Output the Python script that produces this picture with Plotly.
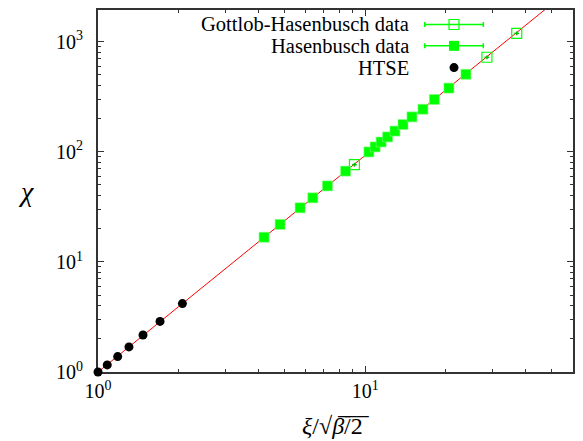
import math
import plotly.graph_objects as go

# ---- data ----
htse_x = [1.0, 1.083, 1.185, 1.306, 1.474, 1.707, 2.07]
htse_y = [1.0, 1.16, 1.38, 1.69, 2.17, 2.88, 4.18]

hasen_x = [4.184, 4.805, 5.709, 6.37, 7.225, 8.45, 10.33, 10.9, 11.48, 12.14,
           12.93, 13.86, 14.97, 16.46, 18.16, 20.59, 23.84]
hasen_y = [16.75, 21.9, 31.0, 38.2, 49.0, 66.8, 99.7, 110.7, 122.8, 136.5,
           154.3, 177.0, 207.6, 243.6, 298.5, 379.0, 505.6]

gh_x = [9.12, 28.57, 36.94]
gh_y = [76.4, 722.5, 1191.0]
gh_xerr_pct = [2.0, 2.0, 2.0]
gh_yerr_pct = [4.0, 4.0, 4.0]

fit_x = [1.0, 60.0]
fit_y = [1.0, 3150.0]

legend_labels = ["Gottlob-Hasenbusch data", "Hasenbusch data", "HTSE"]

x_tickvals = [1, 10]
x_ticktext = ["10<sup>0</sup>", "10<sup>1</sup>"]
y_tickvals = [1, 10, 100, 1000]
y_ticktext = ["10<sup>0</sup>", "10<sup>1</sup>", "10<sup>2</sup>", "10<sup>3</sup>"]

x_range = [1, 60]
y_range = [1, 1941]

# ---- styling ----
FONT = "Liberation Serif, Times New Roman, serif"
GREEN = "#00ff00"
AXC = "#333333"

fig = go.Figure()

fig.add_trace(go.Scatter(x=fit_x, y=fit_y, mode="lines",
                         line=dict(color="#ff0000", width=1), showlegend=False))

fig.add_trace(go.Scatter(x=gh_x, y=gh_y, mode="markers",
                         marker=dict(symbol="square-open", size=10, color=GREEN,
                                     line=dict(width=1.2, color=GREEN)),
                         error_x=dict(type="percent", value=gh_xerr_pct[0], color="#00c000",
                                      thickness=1.5, width=0),
                         error_y=dict(type="percent", value=gh_yerr_pct[0], color="#00c000",
                                      thickness=1.5, width=0),
                         showlegend=False))

fig.add_trace(go.Scatter(x=hasen_x, y=hasen_y, mode="markers",
                         marker=dict(symbol="square", size=10, color=GREEN,
                                     line=dict(width=0.6, color="#80ff80")),
                         showlegend=False))

fig.add_trace(go.Scatter(x=htse_x, y=htse_y, mode="markers", cliponaxis=False,
                         marker=dict(symbol="circle", size=9, color="black"),
                         showlegend=False))

# ---- custom legend (text left, key right, like gnuplot) on overlay axes ----
# plot area spans window px x 98..573, y 8..372
leg_key_x = 0.7495
leg_rows_y = [0.960, 0.901, 0.841]
leg_err = 0.0617
leg_text_x = 0.658

fig.add_trace(go.Scatter(x=[leg_key_x], y=[leg_rows_y[0]], xaxis="x2", yaxis="y2",
                         mode="markers", showlegend=False, cliponaxis=False,
                         marker=dict(symbol="square-open", size=10, color=GREEN,
                                     line=dict(width=1.2, color=GREEN)),
                         error_x=dict(type="constant", value=leg_err, color=GREEN,
                                      thickness=1.5, width=2.5)))
fig.add_trace(go.Scatter(x=[leg_key_x], y=[leg_rows_y[1]], xaxis="x2", yaxis="y2",
                         mode="markers", showlegend=False, cliponaxis=False,
                         marker=dict(symbol="square", size=10, color=GREEN),
                         error_x=dict(type="constant", value=leg_err, color=GREEN,
                                      thickness=1.5, width=2.5)))
fig.add_trace(go.Scatter(x=[leg_key_x], y=[leg_rows_y[2]], xaxis="x2", yaxis="y2",
                         mode="markers", showlegend=False, cliponaxis=False,
                         marker=dict(symbol="circle", size=9, color="black")))

annotations = []
for lab, yy in zip(legend_labels, leg_rows_y):
    annotations.append(dict(text=lab, x=leg_text_x, y=yy, xref="paper", yref="paper",
                            xanchor="right", yanchor="middle", showarrow=False,
                            font=dict(family=FONT, size=20.5, color="black")))

annotations.append(dict(text="<i>ξ</i>/√<i>β</i>\u0305/\u03052\u0305", x=0.5, y=-0.15,
                        xref="paper", yref="paper", xanchor="center", yanchor="middle",
                        showarrow=False, font=dict(family=FONT, size=24, color="black")))
annotations.append(dict(text="<i>χ</i>", x=-0.152, y=0.5,
                        xref="paper", yref="paper", xanchor="center", yanchor="middle",
                        showarrow=False, font=dict(family=FONT, size=28, color="black")))

axis_common = dict(type="log", showgrid=False, zeroline=False, showline=True,
                   linecolor=AXC, linewidth=2, mirror="allticks",
                   ticks="inside", ticklen=6, tickwidth=1.2, tickcolor=AXC,
                   tickfont=dict(family=FONT, size=20, color="black"),
                   tickmode="array", layer="below traces",
                   minor=dict(ticks="inside", ticklen=3, tickwidth=1.2, tickcolor=AXC,
                              dtick="D1", showgrid=False))

# the page body adds an 8px offset, so the figure is 8px smaller than the window
fig.update_layout(
    width=575, height=433, autosize=False,
    margin=dict(l=90, r=10, t=0, b=69),
    paper_bgcolor="white", plot_bgcolor="white",
    font=dict(family=FONT, color="black"),
    xaxis=dict(axis_common, range=[math.log10(x_range[0]), math.log10(x_range[1])],
               tickvals=x_tickvals, ticktext=x_ticktext, ticklabelstandoff=0),
    yaxis=dict(axis_common, range=[math.log10(y_range[0]), math.log10(y_range[1])],
               tickvals=y_tickvals, ticktext=y_ticktext, ticklabelstandoff=9),
    xaxis2=dict(overlaying="x", range=[0, 1], visible=False, anchor="y2"),
    yaxis2=dict(overlaying="y", range=[0, 1], visible=False, anchor="x2"),
    annotations=annotations,
    showlegend=False,
)

fig.write_html("out.html")
